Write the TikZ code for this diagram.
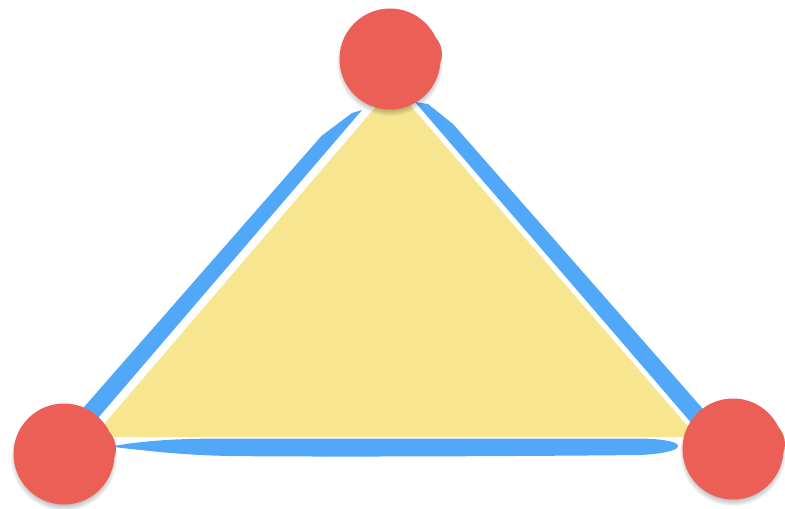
\documentclass[tikz,border=0pt]{standalone}
\definecolor{rd}{HTML}{EB5F57}
\definecolor{yl}{HTML}{F7E68F}
\definecolor{bl}{HTML}{51A8F8}
\tikzset{
  face/.style={fill=yl},
  stroke/.style={fill=bl},
  blob/.style={fill=rd},
  blobshade/.style={fill=black,opacity=0.04}
}
\newcommand\redblob[2]{%
  \begin{scope}[shift={(#1,#2)}]
    \foreach \k in {0,...,7}{\fill[blobshade] (-1,4) circle ({46+\k});}
    \fill[blob] (-1,0) circle (50.5) (26,-5) circle (25);
  \end{scope}}
\begin{document}
\begin{tikzpicture}[x=1pt,y=-1pt]
\useasboundingbox (0,0) rectangle (785,509);
% yellow face
\fill[face] (393.5,86) -- (93,437) -- (697,437) -- cycle;
% left stroke
\fill[stroke] (362,110) -- (352,113) -- (321.5,135.9) -- (68.2,425.1) -- (81.8,436.9) -- cycle;
% right stroke
\fill[stroke] (415,102) -- (428,104) -- (453.2,124.2) -- (711.8,419.1) -- (698.2,430.9) -- cycle;
% bottom stroke
\fill[stroke] (113,446) .. controls (150,440) and (180,438.5) .. (230,438.5)
  -- (640,438.5) .. controls (665,439) and (678,442) .. (678,446)
  .. controls (678,451) and (660,454) .. (640,455)
  .. controls (500,456.5) and (300,457) .. (230,456)
  .. controls (180,455) and (150,451) .. (113,447) -- cycle;
% vertices
\redblob{391}{59}
\redblob{65}{454}
\redblob{734}{449}
\end{tikzpicture}
\end{document}
